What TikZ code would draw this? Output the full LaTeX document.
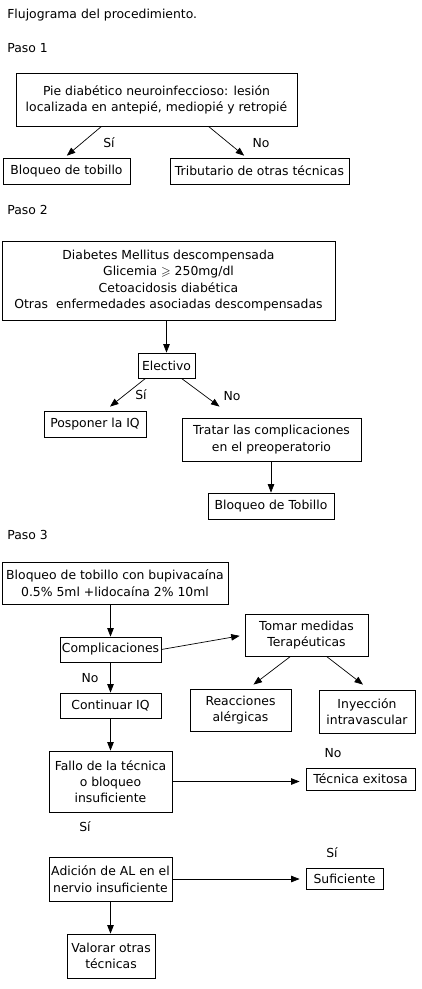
\documentclass[tikz,border=0pt]{standalone}
\usepackage{amssymb}
\usepackage{fontspec}
\setmainfont{DejaVu Sans}
\usetikzlibrary{arrows.meta}
\begin{document}
\begin{tikzpicture}[x=1pt, y=-1pt, >={Triangle[length=8.5pt,width=6.5pt]},
  font=\fontsize{12.4}{16.3}\selectfont,
  box/.style={draw, line width=.8pt, align=center, inner sep=1pt},
  lbl/.style={inner sep=0pt},
  every path/.style={line width=.7pt}]
\useasboundingbox (0,0) rectangle (421,989);
\node (titulo) at (7,18)[anchor=base west, inner sep=0pt]{Flujograma del procedimiento.};
\node (paso1) at (7,52)[anchor=base west, inner sep=0pt]{Paso 1};
\node (paso2) at (7,214)[anchor=base west, inner sep=0pt]{Paso 2};
\node (paso3) at (7,539)[anchor=base west, inner sep=0pt]{Paso 3};

% paso 1
\node (pie) at (156.5,99.5)[box, minimum width=281pt, minimum height=53pt]{Pie diabético neuroinfeccioso: lesión\\localizada en antepié, mediopié y retropié};
\node (bloq1) at (66.5,171)[box, minimum width=127pt, minimum height=26pt]{Bloqueo de tobillo};
\node (trib) at (259.5,171)[box, minimum width=179pt, minimum height=26pt]{Tributario de otras técnicas};
\draw[->, shorten >=3pt]([xshift=-55pt]pie.south)--([xshift=-2pt]bloq1.north);
\draw[->, shorten >=3pt]([xshift=52pt]pie.south)--([xshift=-13pt]trib.north);
\node (si1) at (109,143)[lbl]{Sí};
\node (no1) at (261,143)[lbl]{No};

% paso 2
\node (diab) at (168.5,280.5)[box, minimum width=333pt, minimum height=79pt]{Diabetes Mellitus descompensada\\Glicemia $\geqslant$ 250mg/dl\\Cetoacidosis diabética\\Otras\ \ enfermedades asociadas descompensadas};
\node (elect) at (166.5,365.5)[box, minimum width=57pt, minimum height=25pt]{Electivo};
\node (pospo) at (95,424)[box, minimum width=102pt, minimum height=26pt]{Posponer la IQ};
\node (tratar) at (271.5,439.5)[box, minimum width=179pt, minimum height=43pt]{Tratar las complicaciones\\en el preoperatorio};
\node (bloq2) at (271,506)[box, minimum width=126pt, minimum height=26pt]{Bloqueo de Tobillo};
\draw[->](diab.south -| elect.north)--(elect.north);
\draw[->]([xshift=-21pt]elect.south)--([xshift=15pt, yshift=4pt]pospo.north);
\draw[->]([xshift=15pt]elect.south)--([xshift=-52pt, yshift=11pt]tratar.north);
\draw[->](tratar.south -| bloq2.north)--(bloq2.north);
\node (si2) at (141,395)[lbl]{Sí};
\node (no2) at (232,396)[lbl]{No};

% paso 3
\node (bupi) at (115,583)[box, minimum width=226pt, minimum height=42pt]{Bloqueo de tobillo con bupivacaína\\0.5\% 5ml +lidocaína 2\% 10ml};
\node (compl) at (110.5,649.5)[box, minimum width=101pt, minimum height=25pt]{Complicaciones};
\node (tomar) at (306.5,635)[box, minimum width=123pt, minimum height=42pt]{Tomar medidas\\Terapéuticas};
\node (contin) at (110.5,705.5)[box, minimum width=101pt, minimum height=25pt]{Continuar IQ};
\node (reacc) at (240.5,710)[box, minimum width=101pt, minimum height=42pt]{Reacciones\\alérgicas};
\node (inyec) at (367,711.5)[box, minimum width=96pt, minimum height=43pt]{Inyección\\intravascular};
\node (fallo) at (110.5,781.5)[box, minimum width=123pt, minimum height=61pt]{Fallo de la técnica\\o bloqueo\\insuficiente};
\node (exito) at (360.5,779)[box, minimum width=109pt, minimum height=22pt]{Técnica exitosa};
\node (adic) at (110.5,879)[box, minimum width=123pt, minimum height=44pt]{Adición de AL en el\\nervio insuficiente};
\node (sufic) at (344.5,878.5)[box, minimum width=77pt, minimum height=21pt]{Suficiente};
\node (valor) at (111,956)[box, minimum width=88pt, minimum height=44pt]{Valorar otras\\técnicas};
\draw[->](bupi.south -| compl.north)--(compl.north);
\draw[->, shorten >=5pt](compl.east)--(tomar.west);
\draw[->](compl.south)--(contin.north);
\draw[->]([xshift=-16pt]tomar.south)--([xshift=13pt, yshift=4pt]reacc.north);
\draw[->]([xshift=20pt]tomar.south)--([xshift=-4pt, yshift=5pt]inyec.north);
\draw[->](contin.south)--(fallo.north);
\draw[->, shorten >=6pt](fallo.east)--(fallo.east -| exito.west);
\draw[->, shorten >=6pt](adic.east)--(adic.east -| sufic.west);
\draw[->](adic.south)--(adic.south |- valor.north);
\node (no3) at (90,678)[lbl]{No};
\node (no4) at (333,753)[lbl]{No};
\node (si3) at (85,827)[lbl]{Sí};
\node (si4) at (332,853)[lbl]{Sí};
\end{tikzpicture}
\end{document}
